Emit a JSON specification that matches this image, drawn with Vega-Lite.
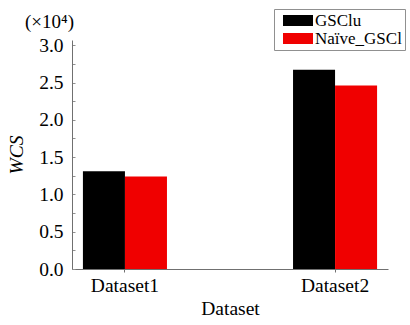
{
  "$schema": "https://vega.github.io/schema/vega-lite/v6.json",
  "autosize": {"type": "none"},
  "width": 316,
  "height": 229,
  "padding": {"left": 72, "top": 40, "right": 22, "bottom": 56},
  "background": "white",
  "title": {
    "text": "(×10⁴)",
    "anchor": "start",
    "frame": "group",
    "dx": -47,
    "offset": 0,
    "dy": 23,
    "font": "Liberation Serif",
    "fontSize": 19,
    "fontWeight": "normal",
    "color": "black"
  },
  "data": {
    "values": [
      {"dataset": "Dataset1", "method": "GSClu", "wcs": 1.31},
      {"dataset": "Dataset1", "method": "Naïve_GSCl", "wcs": 1.24},
      {"dataset": "Dataset2", "method": "GSClu", "wcs": 2.67},
      {"dataset": "Dataset2", "method": "Naïve_GSCl", "wcs": 2.46}
    ]
  },
  "mark": {"type": "bar"},
  "encoding": {
    "x": {
      "field": "dataset",
      "type": "nominal",
      "scale": {"paddingInner": 0.6, "paddingOuter": 0.052},
      "axis": {
        "title": "Dataset",
        "labelAngle": 0,
        "labelFont": "Liberation Serif",
        "labelFontSize": 19.5,
        "labelColor": "black",
        "labelPadding": 4,
        "titleFont": "Liberation Serif",
        "titleFontSize": 19.5,
        "titleFontWeight": "normal",
        "titleColor": "black",
        "titlePadding": 5,
        "domainColor": "#707070",
        "tickColor": "#707070",
        "tickSize": 3,
        "grid": false
      }
    },
    "xOffset": {"field": "method", "type": "nominal", "sort": ["GSClu", "Naïve_GSCl"]},
    "y": {
      "field": "wcs",
      "type": "quantitative",
      "scale": {"domain": [0, 3.07], "nice": false},
      "axis": {
        "title": "WCS",
        "values": [0, 0.25, 0.5, 0.75, 1, 1.25, 1.5, 1.75, 2, 2.25, 2.5, 2.75, 3],
        "labelExpr": "(datum.value * 2) % 1 == 0 ? format(datum.value, '.1f') : ''",
        "labelFont": "Liberation Serif",
        "labelFontSize": 19.5,
        "labelColor": "black",
        "labelPadding": 12,
        "titleFont": "Liberation Serif",
        "titleFontSize": 19.5,
        "titleFontStyle": "italic",
        "titleFontWeight": "normal",
        "titleColor": "black",
        "titlePadding": 12,
        "domainColor": "#707070",
        "tickColor": "#909090",
        "tickSize": -3,
        "grid": false
      }
    },
    "color": {
      "field": "method",
      "type": "nominal",
      "sort": ["GSClu", "Naïve_GSCl"],
      "scale": {"domain": ["GSClu", "Naïve_GSCl"], "range": ["#000000", "#f00000"]},
      "legend": {
        "title": null,
        "orient": "none",
        "legendX": 202,
        "legendY": -31,
        "direction": "vertical",
        "symbolType": "M-0.333,-0.733H3.667V0.733H-0.333Z",
        "symbolSize": 225,
        "symbolStrokeWidth": 0,
        "labelFont": "Liberation Serif",
        "labelFontSize": 17,
        "labelColor": "black",
        "labelOffset": 21,
        "rowPadding": 0,
        "padding": 3,
        "strokeColor": "#909090",
        "fillColor": "white"
      }
    }
  },
  "config": {"view": {"stroke": null}}
}
